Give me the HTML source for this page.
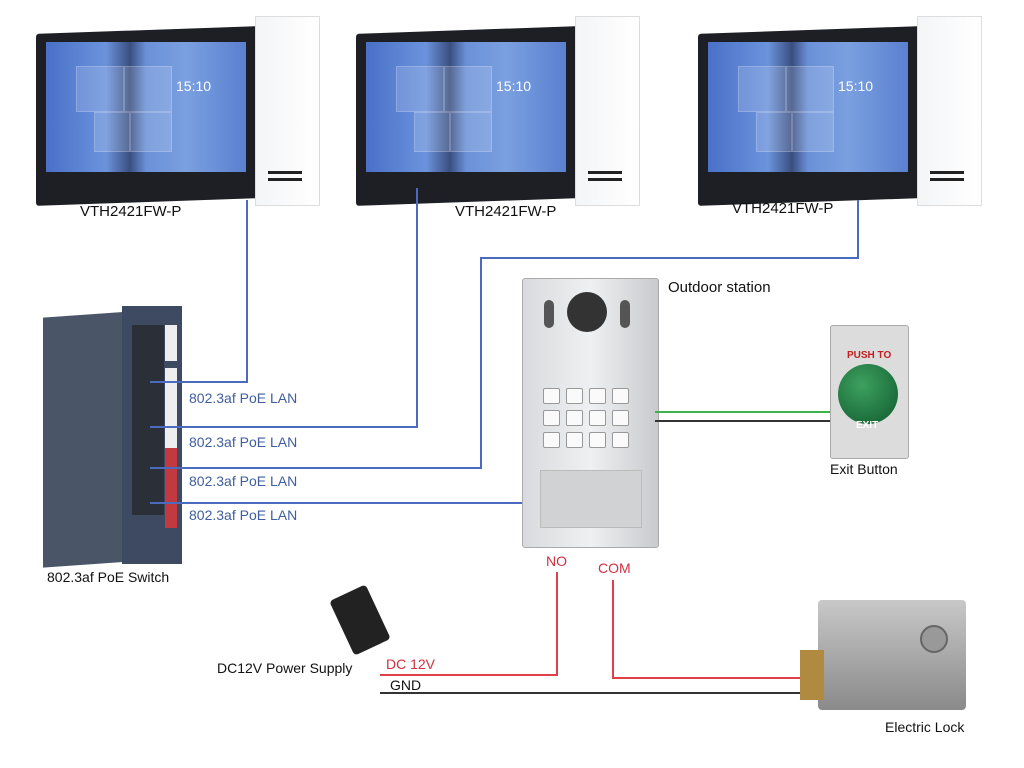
<!DOCTYPE html>
<html><head><style>
body{margin:0;width:1024px;height:768px;background:#fff;position:relative;overflow:hidden;font-family:"Liberation Sans",sans-serif}
.a{position:absolute}
.mon{position:absolute;width:282px;height:186px}
.mon .fr{position:absolute;left:0;top:14px;width:222px;height:172px;background:#1d1f24;border-radius:3px;transform:skewY(-2deg)}
.mon .sc{position:absolute;left:10px;top:26px;width:200px;height:130px;background:linear-gradient(90deg,#4a70c8,#6b93dc 30%,#3a4f80 42%,#6a90d8 50%,#7aa0e0 70%,#5a80d0);}
.mon .tl{position:absolute;background:rgba(255,255,255,0.15);border:1px solid rgba(255,255,255,0.2)}
.mon .wp{position:absolute;left:219px;top:0;width:63px;height:188px;background:linear-gradient(90deg,#f4f5f7,#fff);border:1px solid #ddd}
.mon .sl{position:absolute;left:232px;width:34px;height:3px;background:#222}
.mon .t{position:absolute;left:140px;top:62px;color:#fff;font-size:14px}
.lbl{position:absolute;font-size:15px;color:#111}
.poe{position:absolute;left:189px;font-size:14px;color:#3f5ea0}
.bl{position:absolute;background:#4a6bbf}
.key{position:absolute;width:15px;height:14px;background:#fafafa;border:1px solid #999;border-radius:2px}
</style></head><body>
<div class="mon" style="left:36px;top:16px"><div class="fr"></div><div class="sc"></div><div class="tl" style="left:40px;top:50px;width:46px;height:44px"></div><div class="tl" style="left:88px;top:50px;width:46px;height:44px"></div><div class="tl" style="left:58px;top:96px;width:34px;height:38px"></div><div class="tl" style="left:94px;top:96px;width:40px;height:38px"></div><div class="t">15:10</div><div class="wp"></div><div class="sl" style="top:155px"></div><div class="sl" style="top:162px"></div></div>
<div class="mon" style="left:356px;top:16px"><div class="fr"></div><div class="sc"></div><div class="tl" style="left:40px;top:50px;width:46px;height:44px"></div><div class="tl" style="left:88px;top:50px;width:46px;height:44px"></div><div class="tl" style="left:58px;top:96px;width:34px;height:38px"></div><div class="tl" style="left:94px;top:96px;width:40px;height:38px"></div><div class="t">15:10</div><div class="wp"></div><div class="sl" style="top:155px"></div><div class="sl" style="top:162px"></div></div>
<div class="mon" style="left:698px;top:16px"><div class="fr"></div><div class="sc"></div><div class="tl" style="left:40px;top:50px;width:46px;height:44px"></div><div class="tl" style="left:88px;top:50px;width:46px;height:44px"></div><div class="tl" style="left:58px;top:96px;width:34px;height:38px"></div><div class="tl" style="left:94px;top:96px;width:40px;height:38px"></div><div class="t">15:10</div><div class="wp"></div><div class="sl" style="top:155px"></div><div class="sl" style="top:162px"></div></div>
<div class="lbl" style="left:80px;top:203px">VTH2421FW-P</div>
<div class="lbl" style="left:455px;top:203px">VTH2421FW-P</div>
<div class="lbl" style="left:732px;top:200px">VTH2421FW-P</div>

<div class="a" style="left:43px;top:312px;width:80px;height:250px;background:#4a5568;transform:skewY(-4deg);transform-origin:right top"></div>
<div class="a" style="left:122px;top:306px;width:60px;height:258px;background:#3e4a62"></div>
<div class="a" style="left:132px;top:325px;width:32px;height:190px;background:#2a2f38"></div>
<div class="a" style="left:165px;top:325px;width:12px;height:36px;background:#eee"></div>
<div class="a" style="left:165px;top:368px;width:12px;height:80px;background:#eee"></div>
<div class="a" style="left:165px;top:448px;width:12px;height:80px;background:#c23a40"></div>
<div class="lbl" style="left:47px;top:569px;font-size:14px">802.3af PoE Switch</div>

<div class="bl" style="left:246px;top:200px;width:2px;height:182px"></div>
<div class="bl" style="left:150px;top:381px;width:98px;height:2px"></div>
<div class="bl" style="left:416px;top:188px;width:2px;height:240px"></div>
<div class="bl" style="left:150px;top:426px;width:268px;height:2px"></div>
<div class="bl" style="left:857px;top:200px;width:2px;height:59px"></div>
<div class="bl" style="left:480px;top:257px;width:379px;height:2px"></div>
<div class="bl" style="left:480px;top:257px;width:2px;height:212px"></div>
<div class="bl" style="left:150px;top:467px;width:332px;height:2px"></div>
<div class="bl" style="left:150px;top:502px;width:372px;height:2px"></div>
<div class="poe" style="top:390px">802.3af PoE LAN</div>
<div class="poe" style="top:434px">802.3af PoE LAN</div>
<div class="poe" style="top:473px">802.3af PoE LAN</div>
<div class="poe" style="top:507px">802.3af PoE LAN</div>

<div class="a" style="left:522px;top:278px;width:135px;height:268px;background:linear-gradient(90deg,#d8dadd,#eef0f2 50%,#c8cacd);border:1px solid #aaa;border-radius:3px"></div>
<div class="a" style="left:567px;top:292px;width:40px;height:40px;border-radius:50%;background:#333"></div>
<div class="a" style="left:544px;top:300px;width:10px;height:28px;border-radius:5px;background:#555"></div>
<div class="a" style="left:620px;top:300px;width:10px;height:28px;border-radius:5px;background:#555"></div>
<div class="key" style="left:543px;top:388px"></div><div class="key" style="left:566px;top:388px"></div><div class="key" style="left:589px;top:388px"></div><div class="key" style="left:612px;top:388px"></div>
<div class="key" style="left:543px;top:410px"></div><div class="key" style="left:566px;top:410px"></div><div class="key" style="left:589px;top:410px"></div><div class="key" style="left:612px;top:410px"></div>
<div class="key" style="left:543px;top:432px"></div><div class="key" style="left:566px;top:432px"></div><div class="key" style="left:589px;top:432px"></div><div class="key" style="left:612px;top:432px"></div>
<div class="a" style="left:540px;top:470px;width:100px;height:56px;background:#d0d2d4;border:1px solid #bbb"></div>
<div class="lbl" style="left:668px;top:279px">Outdoor station</div>

<div class="a" style="left:655px;top:411px;width:176px;height:2px;background:#3cb44a"></div>
<div class="a" style="left:655px;top:420px;width:176px;height:2px;background:#333"></div>
<div class="a" style="left:830px;top:325px;width:77px;height:132px;background:#dcdcdc;border:1px solid #aaa;border-radius:3px"></div>
<div class="a" style="left:838px;top:364px;width:60px;height:60px;border-radius:50%;background:radial-gradient(circle at 40% 35%,#3da060,#0f5a2c)"></div>
<div class="a" style="left:847px;top:350px;font-size:10px;font-weight:bold;color:#c02020">PUSH TO</div>
<div class="a" style="left:856px;top:420px;font-size:10px;font-weight:bold;color:#fff">EXIT</div>
<div class="lbl" style="left:830px;top:461px;font-size:14px">Exit Button</div>

<div class="a" style="left:556px;top:572px;width:2px;height:104px;background:#e0404a"></div>
<div class="a" style="left:380px;top:674px;width:178px;height:2px;background:#e0404a"></div>
<div class="a" style="left:612px;top:580px;width:2px;height:98px;background:#e0404a"></div>
<div class="a" style="left:612px;top:677px;width:190px;height:2px;background:#e0404a"></div>
<div class="a" style="left:380px;top:692px;width:430px;height:2px;background:#333"></div>
<div class="a" style="left:546px;top:553px;font-size:14px;color:#d03040">NO</div>
<div class="a" style="left:598px;top:560px;font-size:14px;color:#d03040">COM</div>
<div class="a" style="left:386px;top:656px;font-size:14px;color:#d03040">DC 12V</div>
<div class="a" style="left:390px;top:677px;font-size:14px;color:#111">GND</div>
<div class="a" style="left:340px;top:590px;width:40px;height:60px;background:#222;transform:rotate(-25deg);border-radius:4px"></div>
<div class="lbl" style="left:217px;top:660px;font-size:14px">DC12V Power Supply</div>

<div class="a" style="left:818px;top:600px;width:148px;height:110px;background:linear-gradient(180deg,#c8c8c8,#8a8a8a);border-radius:4px"></div>
<div class="a" style="left:800px;top:650px;width:24px;height:50px;background:#b08a40"></div>
<div class="a" style="left:920px;top:625px;width:24px;height:24px;border-radius:50%;background:#999;border:2px solid #666"></div>
<div class="lbl" style="left:885px;top:719px;font-size:14px">Electric Lock</div>
</body></html>
